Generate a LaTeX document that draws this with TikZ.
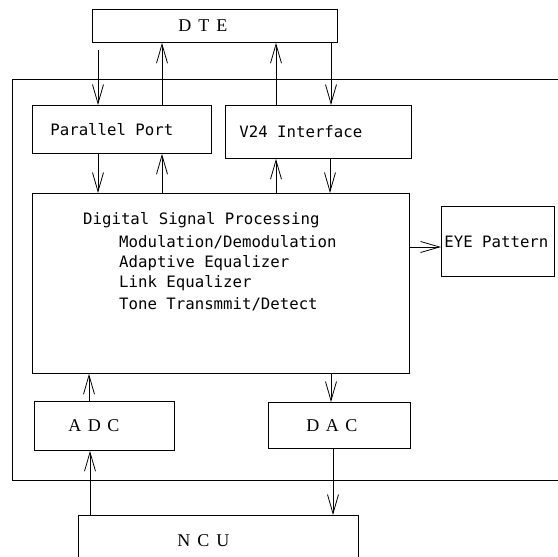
\documentclass[tikz,border=0pt]{standalone}
\usepackage{fontspec}
\usetikzlibrary{arrows.meta}
\newfontfamily\monof{DejaVu Sans Mono}
\newfontfamily\seriff{Liberation Serif}
\newcommand{\inbox}[2]{\makebox[#1][l]{#2}}
\begin{document}
\begin{tikzpicture}[x=1pt,y=-1pt,
  box/.style={draw, line width=0.8pt, rectangle, inner ysep=0pt, anchor=north west},
  mono/.style={font=\monof\fontsize{15.7}{20}\selectfont},
  serif/.style={font=\seriff\fontsize{18}{20}\selectfont},
  arr/.style={draw, line width=0.8pt, -{Straight Barb[length=19pt,width=11pt]}},
  frame/.style={line width=0.8pt}]
\clip (0,0) rectangle (558,557);
\fill[white] (0,0) rectangle (558,557);
% outer frame (open to the right)
\draw[frame] (558,79) -- (12,79) -- (12,480) -- (558,480);
% boxes
\node[box, serif, minimum width=245pt, minimum height=33pt, inner xsep=86pt] (dte) at (92,9) {\inbox{73pt}{D\hspace{7pt}T\hspace{7pt}E}};
\node[box, mono, minimum width=179pt, minimum height=48pt, inner xsep=18pt] (pp) at (32,105) {\inbox{143pt}{Parallel Port}};
\node[box, mono, minimum width=186pt, minimum height=53pt, inner xsep=14pt] (v24) at (225,105) {\inbox{158pt}{V24 Interface}};
\node[box, minimum width=377pt, minimum height=180pt, inner sep=0pt] (dsp) at (32,193) {};
\node[mono, align=left, anchor=north west, inner sep=0pt] (dsptext) at (83,212) {Digital Signal Processing\\[3pt]
\hspace*{36pt}Modulation/Demodulation\\
\hspace*{36pt}Adaptive Equalizer\\
\hspace*{36pt}Link Equalizer\\[2pt]
\hspace*{36pt}Tone Transmmit/Detect};
\node[box, mono, minimum width=113pt, minimum height=70pt, inner xsep=3pt] (eye) at (441,206) {\inbox{107pt}{EYE Pattern}};
\node[box, serif, minimum width=140pt, minimum height=49pt, inner xsep=34pt] (adc) at (34,401) {\inbox{72pt}{A\hspace{6.5pt}D\hspace{6.5pt}C}};
\node[box, serif, minimum width=142pt, minimum height=46pt, inner xsep=38pt] (dac) at (268,402) {\inbox{66pt}{D\hspace{6.5pt}A\hspace{6.5pt}C}};
\node[box, serif, minimum width=280pt, minimum height=50pt, inner xsep=99pt] (ncu) at (78,515) {\inbox{82pt}{N\hspace{7pt}C\hspace{7pt}U}};
% connectors DTE <-> ports
\draw[arr, shorten <=7pt] (98,0 |- dte.south) -- (98,0 |- pp.north);
\draw[arr] (162,0 |- pp.north) -- (162,0 |- dte.south);
\draw[arr] (276,0 |- v24.north) -- (276,0 |- dte.south);
\draw[arr] (331,0 |- dte.south) -- (331,0 |- v24.north);
% ports <-> DSP
\draw[arr] (98,0 |- pp.south) -- (98,0 |- dsp.north);
\draw[arr] (162,0 |- dsp.north) -- (162,0 |- pp.south);
\draw[arr] (276,0 |- dsp.north) -- (276,0 |- v24.south);
\draw[arr] (330,0 |- v24.south) -- (330,0 |- dsp.north);
% DSP -> EYE
\draw[arr] (dsp.east |- 0,247) -- (eye.west |- 0,247);
% ADC / DAC
\draw[arr] (89,0 |- adc.north) -- (89,0 |- dsp.south);
\draw[arr] (90,0 |- ncu.north) -- (90,0 |- adc.south);
\draw[arr] (331,0 |- dsp.south) -- (331,0 |- dac.north);
\draw[arr] (333,0 |- dac.south) -- (333,0 |- ncu.north);
\end{tikzpicture}
\end{document}
